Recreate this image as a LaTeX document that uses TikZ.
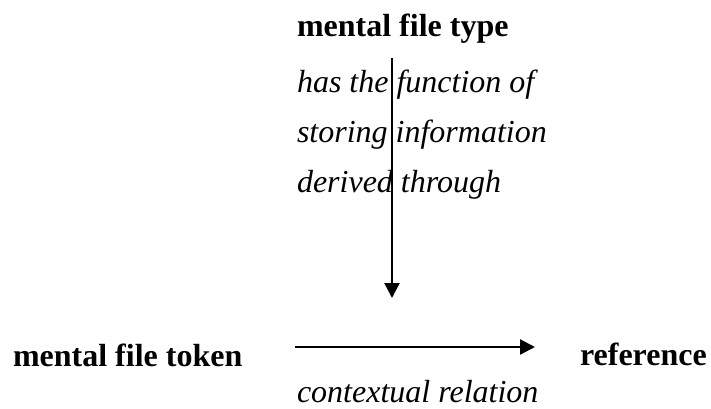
\documentclass[tikz,border=0pt]{standalone}
\usepackage{fontspec}
\setmainfont{Liberation Serif}
\usetikzlibrary{arrows.meta}
\tikzset{
  lbl/.style={anchor=base west, inner sep=0pt, outer sep=0pt, font=\fontsize{32}{38}\selectfont},
  bl/.style={lbl, font=\fontsize{32}{38}\selectfont\bfseries},
  il/.style={lbl, font=\fontsize{32}{38}\selectfont\itshape},
  arr/.style={line width=2.2pt, -{Triangle[length=15pt,width=15pt]}}
}
\begin{document}
\begin{tikzpicture}[x=1pt,y=1pt]
\useasboundingbox (0,0) rectangle (711,408);
\node[bl] (type) at (297,371) {mental file type};
\node[il] (l1) at (297,316) {has the function of};
\node[il] (l2) at (297,266) {storing information};
\node[il] (l3) at (297,216) {derived through};
\node[bl] (token) at (13,42) {mental file token};
\node[bl] (ref) at (580,43) {reference};
\node[il] (ctx) at (297,6) {contextual relation};
\coordinate (vtop) at (392,350);
\coordinate (vbot) at (392,110);
\coordinate (hstart) at (295,61);
\coordinate (hend) at (535,61);
\draw[arr] (vtop) -- (vbot);
\draw[arr] (hstart) -- (hend);
\end{tikzpicture}
\end{document}
